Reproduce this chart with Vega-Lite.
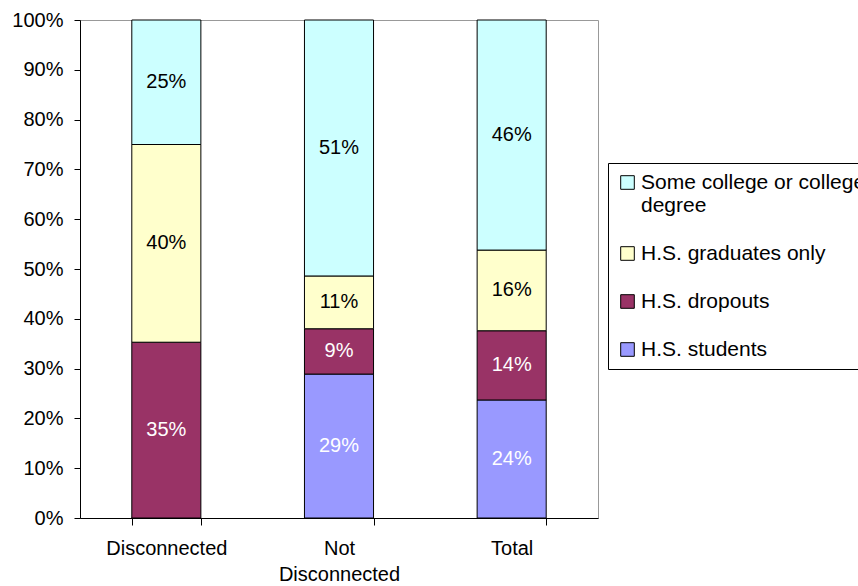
{
  "$schema": "https://vega.github.io/schema/vega-lite/v6.json",
  "width": 518,
  "height": 498,
  "autosize": {"type": "none"},
  "padding": {"left": 80, "top": 20, "right": 260, "bottom": 68},
  "background": "white",
  "config": {
    "font": "Liberation Sans",
    "view": {"stroke": "#999999", "strokeWidth": 1},
    "axis": {"labelFont": "Liberation Sans", "labelFontSize": 20, "labelColor": "#000000", "domainColor": "#000000", "tickColor": "#000000", "grid": false, "title": null}
  },
  "data": {
    "values": [
      {"category": "Disconnected", "group": "H.S. students", "order": 1, "value": 0},
      {"category": "Disconnected", "group": "H.S. dropouts", "order": 2, "value": 0.353},
      {"category": "Disconnected", "group": "H.S. graduates only", "order": 3, "value": 0.397},
      {"category": "Disconnected", "group": "Some college or college degree", "order": 4, "value": 0.25},
      {"category": "Not Disconnected", "group": "H.S. students", "order": 1, "value": 0.289},
      {"category": "Not Disconnected", "group": "H.S. dropouts", "order": 2, "value": 0.091},
      {"category": "Not Disconnected", "group": "H.S. graduates only", "order": 3, "value": 0.106},
      {"category": "Not Disconnected", "group": "Some college or college degree", "order": 4, "value": 0.514},
      {"category": "Total", "group": "H.S. students", "order": 1, "value": 0.237},
      {"category": "Total", "group": "H.S. dropouts", "order": 2, "value": 0.139},
      {"category": "Total", "group": "H.S. graduates only", "order": 3, "value": 0.162},
      {"category": "Total", "group": "Some college or college degree", "order": 4, "value": 0.462}
    ]
  },
  "transform": [
    {"stack": "value", "groupby": ["category"], "sort": [{"field": "order", "order": "ascending"}], "as": ["v0", "v1"]},
    {"calculate": "(datum.v0 + datum.v1) / 2", "as": "mid"}
  ],
  "encoding": {
    "x": {
      "field": "category",
      "type": "nominal",
      "sort": ["Disconnected", "Not Disconnected", "Total"],
      "scale": {"paddingInner": 0.6, "paddingOuter": 0.3},
      "axis": {
        "labelAngle": 0,
        "tickBand": "extent",
        "tickSize": 7,
        "labelPadding": 13,
        "labelLineHeight": 26,
        "labelExpr": "datum.label == 'Not Disconnected' ? ['Not', 'Disconnected'] : datum.label"
      }
    }
  },
  "layer": [
    {
      "mark": {"type": "bar", "stroke": "#000000", "strokeWidth": 1},
      "encoding": {
        "y": {
          "field": "v0",
          "type": "quantitative",
          "scale": {"domain": [0, 1], "nice": false},
          "axis": {"format": ".0%", "values": [0, 0.1, 0.2, 0.3, 0.4, 0.5, 0.6, 0.7, 0.8, 0.9, 1.0], "tickSize": 6, "labelPadding": 11}
        },
        "y2": {"field": "v1"},
        "color": {
          "field": "group",
          "type": "nominal",
          "scale": {
            "domain": ["Some college or college degree", "H.S. graduates only", "H.S. dropouts", "H.S. students"],
            "range": ["#CCFFFF", "#FFFFCC", "#993366", "#9999FF"]
          },
          "legend": {
            "title": null,
            "orient": "none",
            "legendX": 528,
            "legendY": 143,
            "direction": "vertical",
            "symbolType": "square",
            "symbolSize": 185,
            "symbolStrokeColor": "#000000",
            "symbolStrokeWidth": 1,
            "labelFont": "Liberation Sans",
            "labelFontSize": 21,
            "labelColor": "#000000",
            "labelLimit": 400,
            "labelOffset": 3,
            "rowPadding": 26,
            "padding": 9,
            "strokeColor": "#000000",
            "fillColor": "white",
            "labelExpr": "datum.label == 'Some college or college degree' ? ['Some college or college', 'degree'] : datum.label"
          }
        }
      }
    },
    {
      "transform": [{"filter": "datum.value > 0"}],
      "mark": {"type": "text", "font": "Liberation Sans", "fontSize": 20, "baseline": "middle", "align": "center"},
      "encoding": {
        "y": {"field": "mid", "type": "quantitative"},
        "text": {"field": "value", "type": "quantitative", "format": ".0%"},
        "color": {
          "condition": {"test": "datum.group == 'H.S. students' || datum.group == 'H.S. dropouts'", "value": "#FFFFFF"},
          "value": "#000000"
        }
      }
    }
  ]
}
